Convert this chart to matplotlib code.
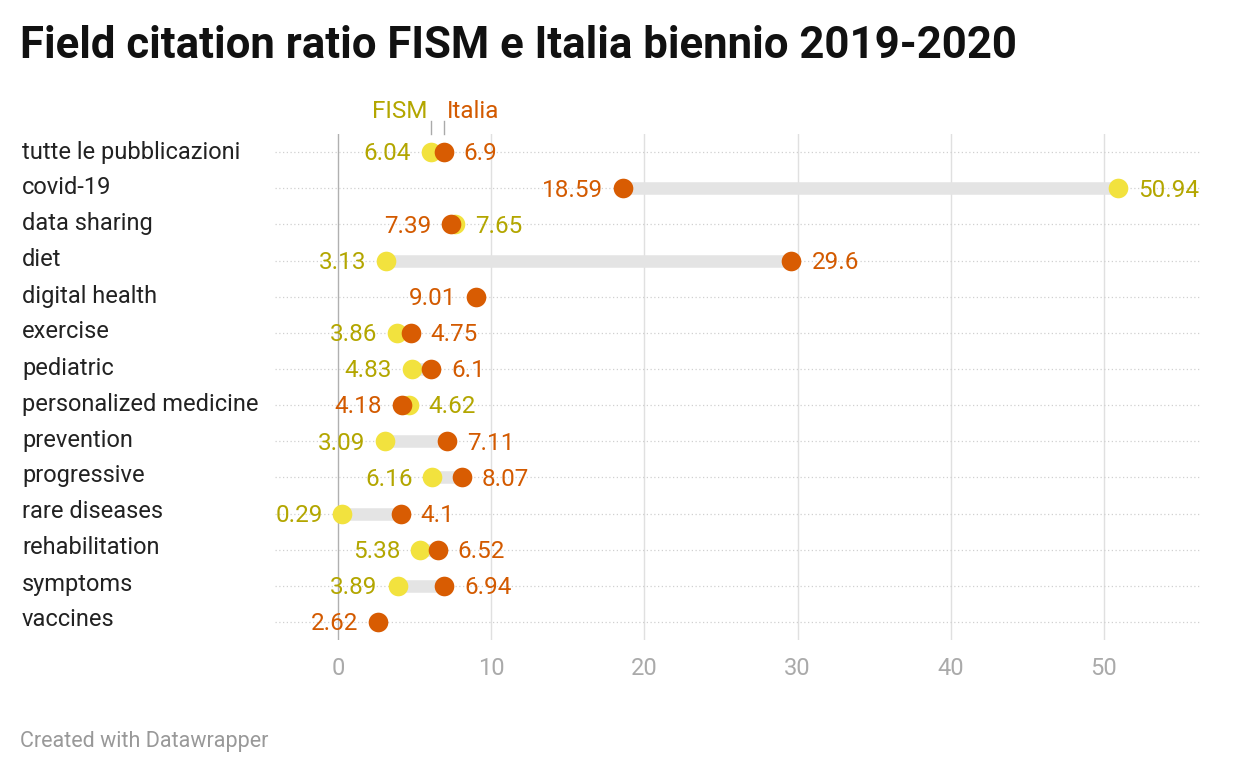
import numpy as np
import matplotlib.pyplot as plt

plt.rcParams['font.family'] = ['Roboto', 'DejaVu Sans']

categorie = ["tutte le pubblicazioni", "covid-19", "data sharing", "diet", "digital health",
             "exercise", "pediatric", "personalized medicine", "prevention", "progressive",
             "rare diseases", "rehabilitation", "symptoms", "vaccines"]
fism = [6.04, 50.94, 7.65, 3.13, None, 3.86, 4.83, 4.62, 3.09, 6.16, 0.29, 5.38, 3.89, None]
italia = [6.9, 18.59, 7.39, 29.6, 9.01, 4.75, 6.1, 4.18, 7.11, 8.07, 4.1, 6.52, 6.94, 2.62]

C_FISM = "#f2e23e"
C_FISM_TXT = "#b3a600"
C_IT = "#d85c02"
C_IT_TXT = "#d35a00"
FS = 17.5

fig = plt.figure(figsize=(12.4, 7.74), dpi=100)
W, H = 1240, 774
ax = fig.add_axes([275 / W, 1 - 640 / H, (1200 - 275) / W, (640 - 134) / H])

x0, px10 = 338, 153.2
xmin = (275 - x0) / px10 * 10
xmax = (1200 - x0) / px10 * 10
ax.set_xlim(xmin, xmax)
n = len(categorie)
ax.set_ylim(n - 0.5, -0.5)

for v in [10, 20, 30, 40, 50]:
    ax.axvline(v, color="#e0e0e0", lw=1, zorder=0)
ax.axvline(0, color="#b0b0b0", lw=1, zorder=0)

off = 1.3
for i, (f, it) in enumerate(zip(fism, italia)):
    ax.axhline(i, color="#d0d0d0", lw=0.9, ls=(0, (1, 2)), zorder=0)
    fig.text(22 / W, 1 - (152 + i * 36) / H, categorie[i], fontsize=FS - 0.5, color="#222222",
             ha="left", va="center")
    if f is not None:
        ax.plot([f, it], [i, i], color="#e4e4e4", lw=9, solid_capstyle="butt", zorder=1)
        ax.scatter(f, i, s=200, color=C_FISM, zorder=2, linewidths=0)
    ax.scatter(it, i, s=200, color=C_IT, zorder=3, linewidths=0)
    if f is None:
        ax.text(it - off, i + 0.05, f"{it:g}", color=C_IT_TXT, fontsize=FS, ha="right", va="center")
        continue
    if f <= it:
        ax.text(f - off, i + 0.05, f"{f:g}", color=C_FISM_TXT, fontsize=FS, ha="right", va="center")
        ax.text(it + off, i + 0.05, f"{it:g}", color=C_IT_TXT, fontsize=FS, ha="left", va="center")
    else:
        ax.text(it - off, i + 0.05, f"{it:g}", color=C_IT_TXT, fontsize=FS, ha="right", va="center")
        ax.text(f + off, i + 0.05, f"{f:g}", color=C_FISM_TXT, fontsize=FS, ha="left", va="center")

# intestazioni serie
ax.plot([fism[0], fism[0]], [-0.85, -0.5], color="#aaaaaa", lw=1, clip_on=False)
ax.plot([italia[0], italia[0]], [-0.85, -0.5], color="#aaaaaa", lw=1, clip_on=False)
ax.text(fism[0] - 0.2, -0.8, "FISM", color=C_FISM_TXT, fontsize=FS, ha="right", va="bottom")
ax.text(italia[0] + 0.2, -0.8, "Italia", color=C_IT_TXT, fontsize=FS, ha="left", va="bottom")

ax.set_yticks([])
ax.set_xticks([0, 10, 20, 30, 40, 50])
ax.tick_params(axis="x", length=0, labelsize=17, labelcolor="#aaaaaa", pad=12)
for s in ax.spines.values():
    s.set_visible(False)

fig.text(20 / W, 1 - 46 / H, "Field citation ratio FISM e Italia biennio 2019-2020",
         fontsize=31.5, fontweight="bold", color="#111111", ha="left", va="center")
fig.text(20 / W, 1 - 741 / H, "Created with Datawrapper", fontsize=15.5, color="#999999",
         ha="left", va="center")

fig.savefig("out.png", dpi=100)
